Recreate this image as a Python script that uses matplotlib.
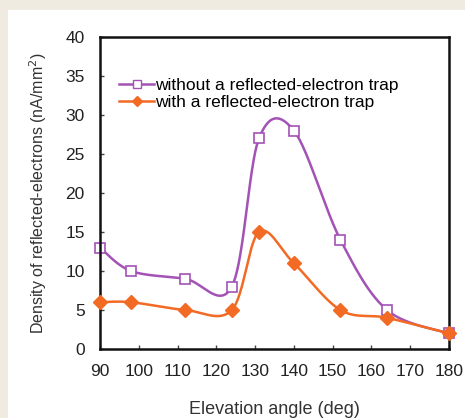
import numpy as np
import matplotlib.pyplot as plt
from matplotlib.patches import Rectangle
from matplotlib.lines import Line2D

plt.rcParams['font.family'] = ['Liberation Sans', 'DejaVu Sans']

angles = [90, 98, 112, 124, 131, 140, 152, 164, 180]
without_trap = [13, 10, 9, 8, 27, 28, 14, 5, 2]
with_trap = [6, 6, 5, 5, 15, 11, 5, 4, 2]

purple = "#a352b5"
orange = "#f26a24"


def smooth(x, y, n=40):
    # Excel-style smoothed line (Catmull-Rom as cubic Bezier)
    p = np.column_stack([x, y]).astype(float)
    p = np.vstack([p[0], p, p[-1]])
    xs, ys = [], []
    t = np.linspace(0, 1, n)
    for i in range(1, len(p) - 2):
        p0, p1, p2, p3 = p[i - 1], p[i], p[i + 1], p[i + 2]
        c1 = p1 + (p2 - p0) / 6
        c2 = p2 - (p3 - p1) / 6
        b = ((1 - t) ** 3)[:, None] * p1 + (3 * (1 - t) ** 2 * t)[:, None] * c1 \
            + (3 * (1 - t) * t ** 2)[:, None] * c2 + (t ** 3)[:, None] * p2
        xs.extend(b[:, 0])
        ys.extend(b[:, 1])
    return xs, ys


fig = plt.figure(figsize=(4.65, 4.18), dpi=100, facecolor="#efebe1")
fig.patches.append(Rectangle((8 / 465, 0), 1, 1 - 10 / 418, transform=fig.transFigure,
                             facecolor="white", edgecolor="none", zorder=-10))
ax = fig.add_axes([100 / 465, 1 - 349 / 418, 349 / 465, 312 / 418])

sx, sy = smooth(angles, without_trap)
ax.plot(sx, sy, color=purple, lw=1.8, clip_on=False)
ax.plot(angles, without_trap, ls="none", marker="s", ms=7, mfc="white", mec=purple,
        mew=1.2, clip_on=False)
sx, sy = smooth(angles, with_trap)
ax.plot(sx, sy, color=orange, lw=1.8, clip_on=False)
ax.plot(angles, with_trap, ls="none", marker="D", ms=7, color=orange, clip_on=False, zorder=3)

ax.set_xlim(90, 180)
ax.set_ylim(0, 40)
ax.set_xticks(range(90, 181, 10))
ax.set_yticks(range(0, 41, 5))
ax.tick_params(direction="in", length=3, width=1, labelsize=12.5, colors="#444444",
               labelcolor="#222222")
ax.tick_params(axis="y", pad=11)
ax.tick_params(axis="x", pad=11)
for s in ax.spines.values():
    s.set_linewidth(1.8)
    s.set_color("#111111")

ax.set_xlabel("Elevation angle (deg)", fontsize=13, color="#333333", labelpad=16)
ax.set_ylabel("Density of reflected-electrons (nA/mm$^2$)", fontsize=11.5, color="#333333",
              labelpad=12)

handles = [
    Line2D([], [], color=purple, lw=1.8, marker="s", ms=6, mfc="white", mec=purple),
    Line2D([], [], color=orange, lw=1.8, marker="D", ms=5),
]
ax.legend(handles, ["without a reflected-electron trap", "with a reflected-electron trap"],
          loc="upper left", bbox_to_anchor=(0.035, 0.89), frameon=False, fontsize=12.5,
          handlelength=2.0, handletextpad=0.05, labelspacing=0.1, borderaxespad=0)

fig.savefig("out.png", dpi=100, facecolor=fig.get_facecolor())
